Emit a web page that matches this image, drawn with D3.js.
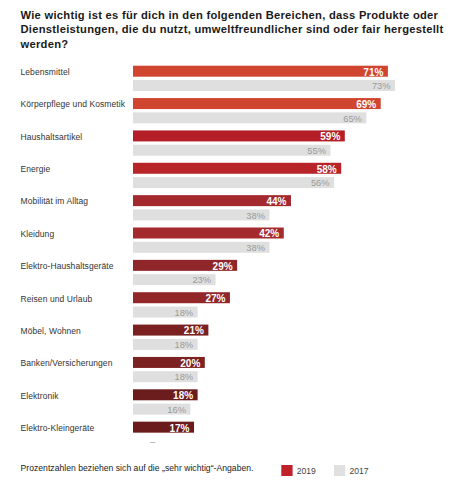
<!DOCTYPE html>
<html><head><meta charset="utf-8">
<script src="https://cdn.jsdelivr.net/npm/d3@7"></script>
<style>
body{margin:0;background:#fff;}
svg{display:block;font-family:"Liberation Sans",Arial,sans-serif;}
</style></head>
<body><svg id="c" width="468" height="485"></svg>
<script>
const titleLines = [
  "Wie wichtig ist es für dich in den folgenden Bereichen, dass Produkte oder",
  "Dienstleistungen, die du nutzt, umweltfreundlicher sind oder fair hergestellt",
  "werden?"
];
const categories = ["Lebensmittel","Körperpflege und Kosmetik","Haushaltsartikel","Energie","Mobilität im Alltag","Kleidung","Elektro-Haushaltsgeräte","Reisen und Urlaub","Möbel, Wohnen","Banken/Versicherungen","Elektronik","Elektro-Kleingeräte"];
const values2019 = [71,69,59,58,44,42,29,27,21,20,18,17];
const values2017 = [73,65,55,56,38,38,23,18,18,18,16,null];
const barColors = ["#cf4530","#d0452f","#b41f27","#b82529","#a3292e","#a52a2e","#8f2629","#912729","#7a2020","#7d2222","#6b1c1c","#6a1c1c"];
const legendItems = [{label:"2019",color:"#c0222b"},{label:"2017",color:"#e0e0e0"}];
const footnote = "Prozentzahlen beziehen sich auf die „sehr wichtig“-Angaben.";

const svg = d3.select("#c");
const x = d3.scaleLinear().domain([0,100]).range([133,492]);
const y = d3.scaleBand().domain(categories).range([65.7,65.7+12*32.36]).padding(0);
const bh = 11, gOff = 14.3;

svg.append("g").selectAll("text").data(titleLines).join("text")
  .attr("x",20.5).attr("y",(d,i)=>19.3+i*14.1)
  .attr("font-size",11.2).attr("font-weight","bold").attr("fill","#1a1a1a")
  .attr("letter-spacing",0.27)
  .text(d=>d);

const g = svg.append("g");
const rows = categories.map((c,i)=>({c,v19:values2019[i],v17:values2017[i],col:barColors[i]}));

g.selectAll(".lab").data(rows).join("text")
  .attr("x",20.5).attr("y",d=>y(d.c)+9.3)
  .attr("font-size",8.5).attr("fill","#333").attr("letter-spacing",0.08).text(d=>d.c);

g.selectAll(".r").data(rows).join("rect")
  .attr("x",x(0)).attr("y",d=>y(d.c)).attr("width",d=>x(d.v19)-x(0)).attr("height",bh)
  .attr("fill",d=>d.col);
g.selectAll(".rt").data(rows).join("text")
  .attr("x",d=>x(d.v19)-4.5).attr("y",d=>y(d.c)+9.9).attr("text-anchor","end")
  .attr("font-size",10).attr("font-weight","bold").attr("fill","#fff")
  .text(d=>d.v19+"%");

const r17 = rows.filter(d=>d.v17!=null);
g.selectAll(".g").data(r17).join("rect")
  .attr("x",x(0)).attr("y",d=>y(d.c)+gOff).attr("width",d=>x(d.v17)-x(0)).attr("height",bh)
  .attr("fill","#dfdfdf");
g.selectAll(".gt").data(r17).join("text")
  .attr("x",d=>x(d.v17)-4.5).attr("y",d=>y(d.c)+gOff+9.2).attr("text-anchor","end")
  .attr("font-size",9.3).attr("fill","#9a9a9a")
  .text(d=>d.v17+"%");
g.selectAll(".na").data(rows.filter(d=>d.v17==null)).join("text")
  .attr("x",x(0)+19.5).attr("y",d=>y(d.c)+gOff+9.2).attr("text-anchor","middle")
  .attr("font-size",9.3).attr("fill","#9a9a9a").text("–");

svg.append("text").attr("x",20.5).attr("y",470.5).attr("font-size",8.6).attr("fill","#222").attr("letter-spacing",0.03).text(footnote);

const lg = svg.append("g").selectAll("g").data(legendItems).join("g")
  .attr("transform",(d,i)=>`translate(${281.3+i*52.7},465)`);
lg.append("rect").attr("width",11.3).attr("height",11).attr("fill",d=>d.color);
lg.append("text").attr("x",15.4).attr("y",8.6).attr("font-size",8.6).attr("fill","#444").text(d=>d.label);
</script></body></html>
